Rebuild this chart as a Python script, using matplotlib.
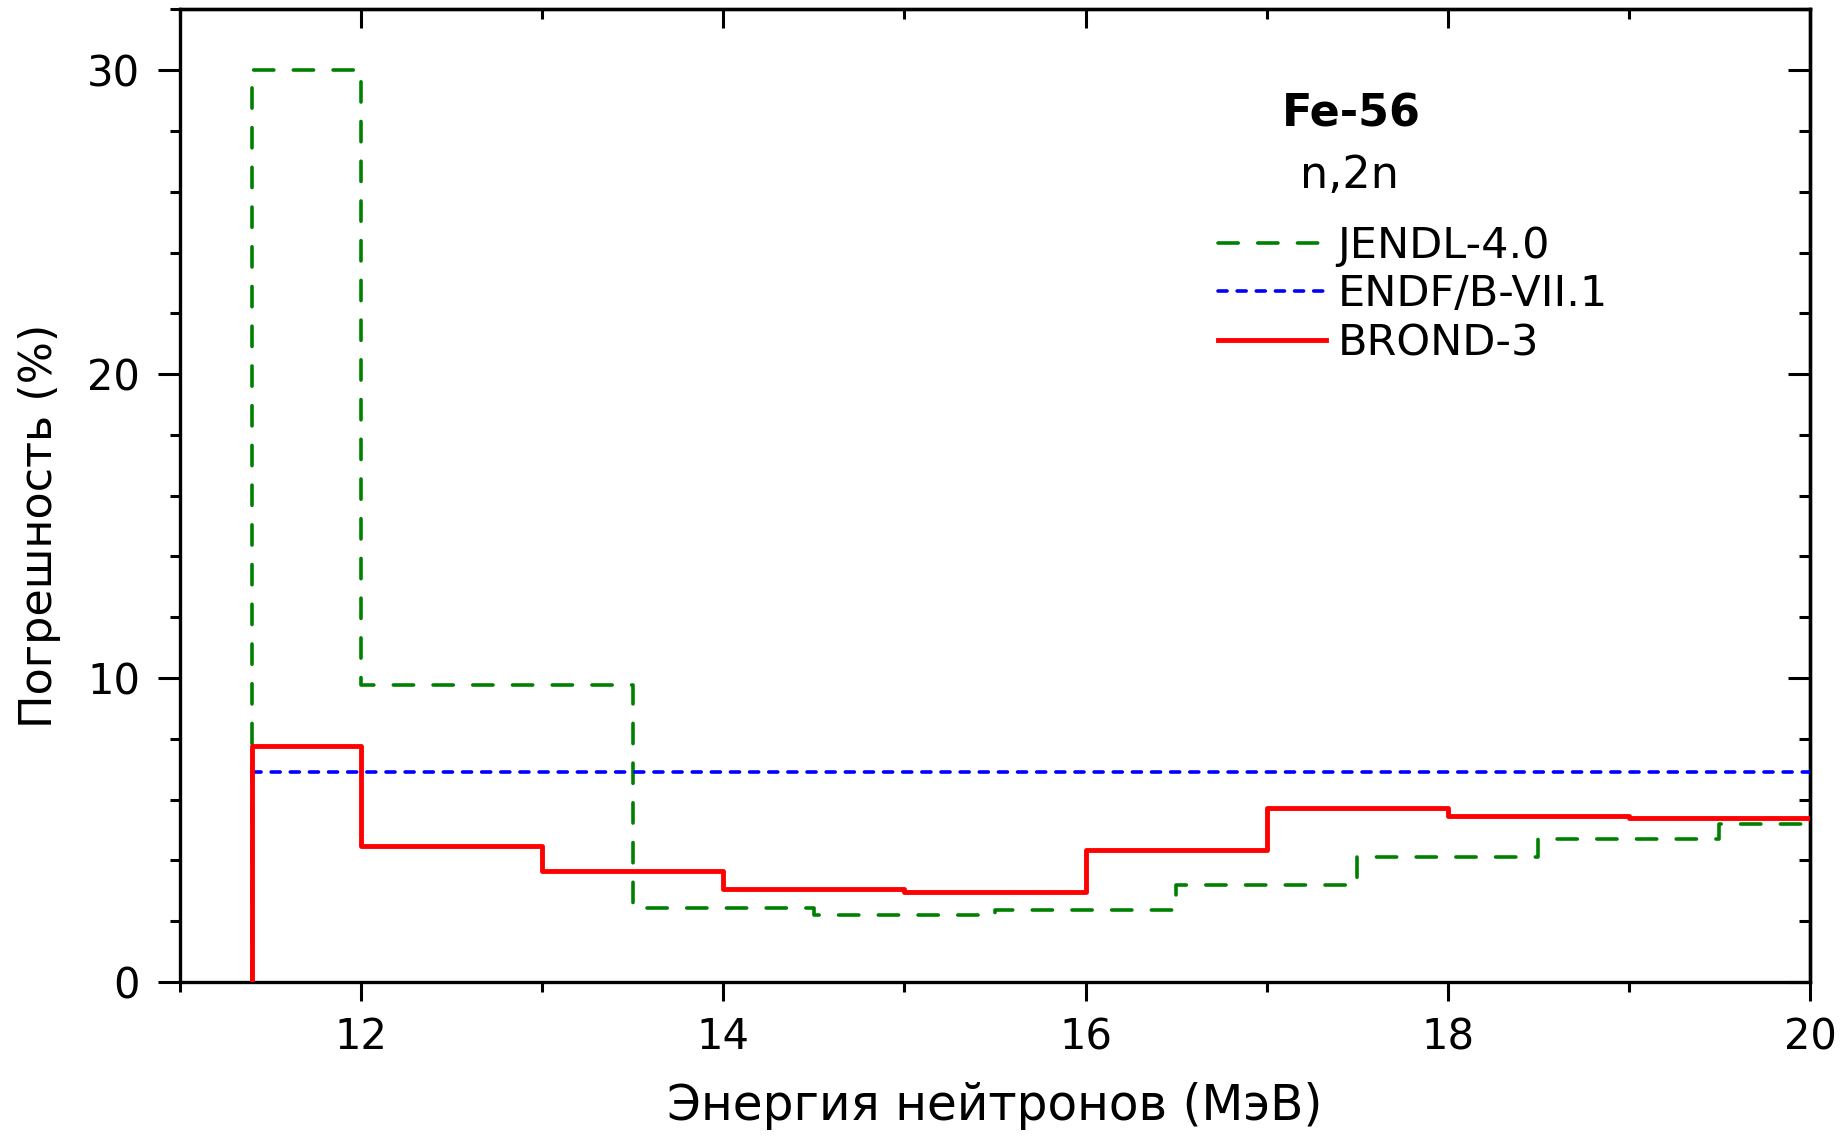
import matplotlib
matplotlib.use('Agg')
import matplotlib.pyplot as plt
from matplotlib.ticker import MultipleLocator

# Границы энергетических групп (МэВ) и погрешности (%) для Fe-56 (n,2n)
jendl_edges = [11.4, 12.0, 13.5, 14.5, 15.5, 16.5, 17.5, 18.5, 19.5, 20.0]
jendl_err = [30.0, 9.76, 2.42, 2.19, 2.37, 3.19, 4.12, 4.70, 5.19]

endf_edges = [11.4, 20.0]
endf_err = [6.92]

brond_edges = [11.4, 12.0, 13.0, 14.0, 15.0, 16.0, 17.0, 18.0, 19.0, 20.0]
brond_err = [7.75, 4.46, 3.65, 3.06, 2.97, 4.34, 5.73, 5.45, 5.40]

labels = ['JENDL-4.0', 'ENDF/B-VII.1', 'BROND-3']


def step_xy(edges, values, start=None):
    # ступенчатая линия: значение держится до правой границы группы
    x = list(edges)
    y = list(values) + [values[-1]]
    if start is not None:
        x = [edges[0]] + x
        y = [start] + y
    return x, y


plt.rcParams['font.family'] = ['DejaVu Sans']

fig = plt.figure(figsize=(18.49, 11.43), dpi=100)
ax = fig.add_axes([0.09735, 0.14086, 0.88156, 0.85092])

x, y = step_xy(jendl_edges, jendl_err, start=0)
ax.step(x, y, where='post', color='#008000', lw=2.6, dashes=(5.6, 5.4),
        dash_capstyle='round', label=labels[0], zorder=2)
x, y = step_xy(endf_edges, endf_err)
ax.step(x, y, where='post', color='#0000FF', lw=2.6, dashes=(2.5, 2.8),
        dash_capstyle='round', label=labels[1], zorder=3)
x, y = step_xy(brond_edges, brond_err, start=0)
ax.step(x, y, where='post', color='#FF0000', lw=3.5, label=labels[2], zorder=4)

ax.set_xlim(11, 20)
ax.set_ylim(0, 32)

ax.xaxis.set_major_locator(MultipleLocator(2))
ax.xaxis.set_minor_locator(MultipleLocator(1))
ax.yaxis.set_major_locator(MultipleLocator(10))
ax.yaxis.set_minor_locator(MultipleLocator(2))

for s in ax.spines.values():
    s.set_linewidth(2.4)

ax.tick_params(axis='x', which='major', direction='out', length=13.7, width=2.2,
               pad=11, labelsize=30)
ax.tick_params(axis='y', which='major', direction='out', length=15.8, width=2.2,
               pad=13, labelsize=30)
ax.tick_params(which='minor', direction='out', length=7.4, width=2.2)

# верхняя и правая оси: засечки внутрь, без подписей
top = ax.secondary_xaxis('top')
top.xaxis.set_major_locator(MultipleLocator(2))
top.xaxis.set_minor_locator(MultipleLocator(1))
top.tick_params(which='major', direction='in', length=13.7, width=2.2, labeltop=False)
top.tick_params(which='minor', direction='in', length=7.4, width=2.2)
top.spines['top'].set_linewidth(2.4)

right = ax.secondary_yaxis('right')
right.yaxis.set_major_locator(MultipleLocator(10))
right.yaxis.set_minor_locator(MultipleLocator(2))
right.tick_params(which='major', direction='in', length=15.8, width=2.2, labelright=False)
right.tick_params(which='minor', direction='in', length=7.9, width=2.2)
right.spines['right'].set_linewidth(2.4)

ax.set_xlabel('Энергия нейтронов (МэВ)', fontsize=35)
ax.xaxis.set_label_coords(0.5, -0.103)
ax.set_ylabel('Погрешность (%)', fontsize=32)
ax.yaxis.set_label_coords(-0.073, 0.469)

fig.text(0.7307, 0.8889, 'Fe-56', fontsize=32, fontweight='bold', ha='center', va='baseline')
fig.text(0.7296, 0.8355, 'n,2n', fontsize=32, ha='center', va='baseline')

ax.legend(loc='upper left', bbox_to_anchor=(0.6587, 0.8035), bbox_transform=fig.transFigure,
          frameon=False, fontsize=31, borderpad=0, borderaxespad=0,
          handlelength=2.5, handletextpad=0.28, labelspacing=0.16)

fig.savefig('out.png', dpi=100)
